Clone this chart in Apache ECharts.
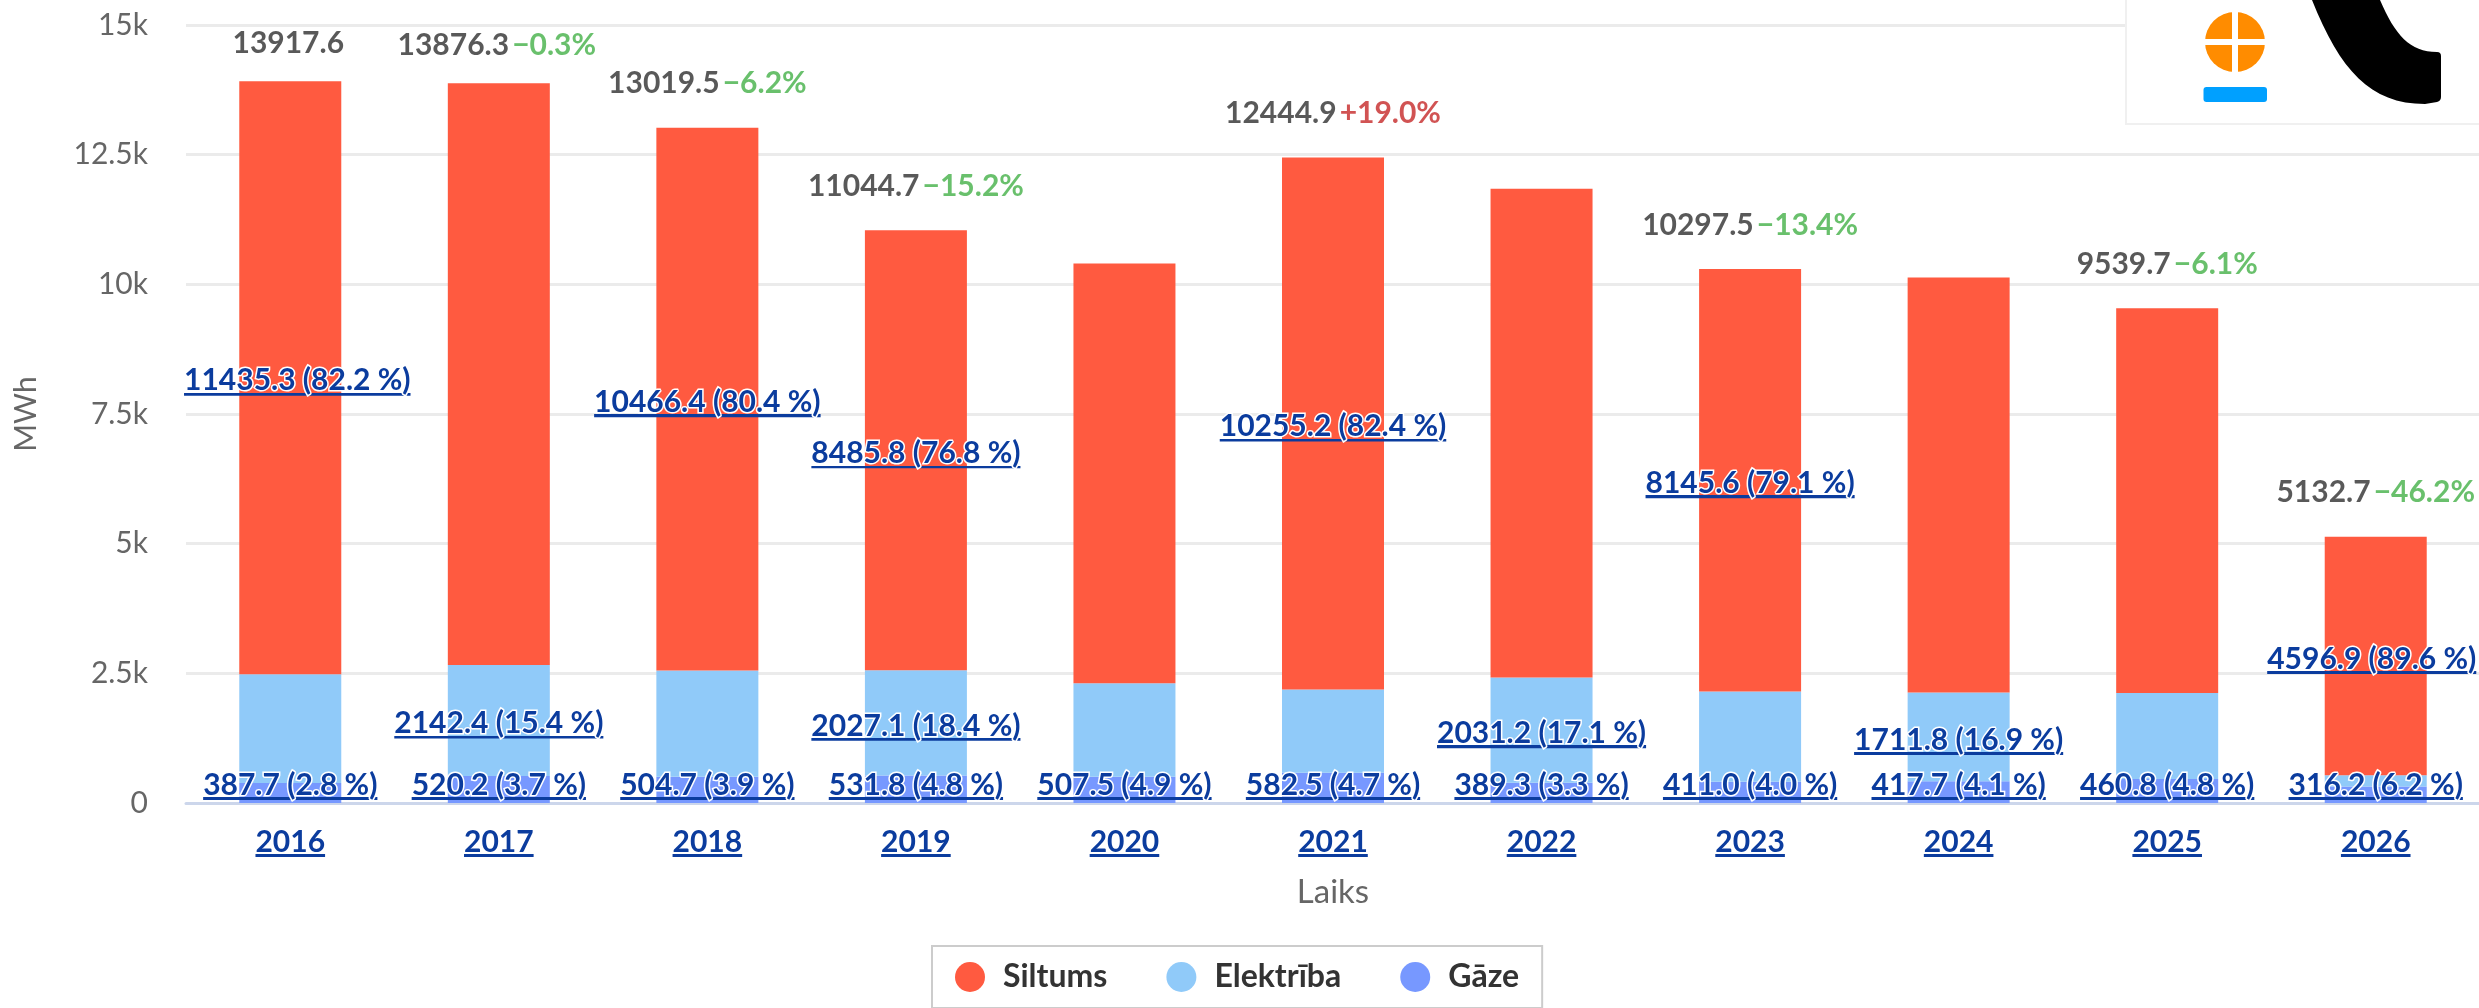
<!DOCTYPE html>
<html><head><meta charset="utf-8">
<style>html,body{margin:0;padding:0;background:#fff}#c{width:2479px;height:1008px}</style>
<script src="https://cdn.jsdelivr.net/npm/echarts@6/dist/echarts.min.js"></script>
</head><body><div id="c"></div>
<script>
const years = ['2016','2017','2018','2019','2020','2021','2022','2023','2024','2025','2026'];
const siltums  = [11435.3,11213.7,10466.4,8485.8,8093,10255.2,9420,8145.6,8000,7419,4596.9];
const elektriba= [2094.6,2142.4,2048.4,2027.1,1800,1607.2,2031.2,1740.9,1711.8,1660,219.6];
const gaze     = [387.7,520.2,504.7,531.8,507.5,582.5,389.3,411.0,417.7,460.8,316.2];
const siltumsLabels = ['11435.3 (82.2 %)',null,'10466.4 (80.4 %)','8485.8 (76.8 %)',null,'10255.2 (82.4 %)',null,'8145.6 (79.1 %)',null,null,'4596.9 (89.6 %)'];
const elektribaLabels = [null,'2142.4 (15.4 %)',null,'2027.1 (18.4 %)',null,null,'2031.2 (17.1 %)',null,'1711.8 (16.9 %)',null,null];
const gazeLabels = ['387.7 (2.8 %)','520.2 (3.7 %)','504.7 (3.9 %)','531.8 (4.8 %)','507.5 (4.9 %)','582.5 (4.7 %)','389.3 (3.3 %)','411.0 (4.0 %)','417.7 (4.1 %)','460.8 (4.8 %)','316.2 (6.2 %)'];
const totalLabels = ['13917.6','13876.3','13019.5','11044.7',null,'12444.9',null,'10297.5',null,'9539.7','5132.7'];
const deltaLabels = [null,'−0.3%','−6.2%','−15.2%',null,'+19.0%',null,'−13.4%',null,'−6.1%','−46.2%'];
const yTicks = {0:'0',2500:'2.5k',5000:'5k',7500:'7.5k',10000:'10k',12500:'12.5k',15000:'15k'};

const FONT = 'Lato, "Open Sans", sans-serif';
const BLUE = '#0b3c9e';
const underlineBg = new echarts.graphic.LinearGradient(0,0,0,1,[
  {offset:0,color:'rgba(11,60,158,0)'},{offset:0.91,color:'rgba(11,60,158,0)'},
  {offset:0.91,color:BLUE},{offset:1,color:BLUE}
]);
const underlined = {
  t:{color:BLUE,fontFamily:FONT,fontSize:30,fontWeight:'bold',height:30,lineHeight:30,
     backgroundColor:underlineBg,textBorderColor:'#fff',textBorderWidth:3}
};
const ul = s => `{t|${s}}`;
const xNudge = {'11435.3 (82.2 %)':7,'4596.9 (89.6 %)':-4};
function barData(values, labels){
  return values.map((v,i)=>{
    const s = labels[i];
    const d = {value:v};
    if(!s){ d.label={show:false}; }
    else if(xNudge[s]!==undefined){ d.label={show:true,formatter:ul(s),offset:[xNudge[s],3]}; }
    else { d.label={show:true,formatter:ul(s)}; }
    return d;
  });
}
const totals = years.map((_,i)=>siltums[i]+elektriba[i]+gaze[i]);
echarts.graphic.registerShape('logoTail', echarts.graphic.extendPath('M2312 0 C2340 70 2370 104 2425 104 L2437 102 Q2441 101 2441 97 L2441 56 Q2441 52 2437 52 C2410 52 2395 35 2380 0 Z',{}));
const chart = echarts.init(document.getElementById('c'),null,{renderer:'canvas'});
const totalText = c => ({color:c,fontSize:30,fontWeight:'bold',fontFamily:FONT,textBorderColor:'#fff',textBorderWidth:3});
chart.setOption({
  animation:false,
  backgroundColor:'#fff',
  textStyle:{fontFamily:FONT},
  grid:{left:186,top:25,width:2294,bottom:205,containLabel:false,outerBoundsMode:'none'},
  legend:{
    data:['Siltums','Elektrība','Gāze'],
    left:932,top:946,
    padding:[15,23,15,23],
    itemWidth:30,itemHeight:30,itemGap:59,icon:'circle',
    borderColor:'#cccccc',borderWidth:2,backgroundColor:'#fff',
    textStyle:{color:'#333',fontFamily:FONT,fontSize:32,fontWeight:'bold',padding:[0,0,0,13]}
  },
  xAxis:{
    type:'category',data:years,
    name:'Laiks',nameLocation:'middle',nameGap:73,
    nameTextStyle:{color:'#666',fontSize:33,fontFamily:FONT},
    axisLine:{lineStyle:{color:'#ccd6eb',width:3}},
    axisTick:{show:false},
    axisLabel:{margin:24,formatter:v=>`{t|${v}}`,rich:underlined},
  },
  yAxis:{
    type:'value',min:0,max:15000,interval:2500,
    name:'MWh',nameLocation:'middle',nameGap:145,
    nameTextStyle:{color:'#666',fontSize:30,fontFamily:FONT},
    axisLine:{show:false},axisTick:{show:false},
    axisLabel:{margin:38,color:'#666',fontSize:30,fontFamily:FONT,formatter:v=>yTicks[v]},
    splitLine:{lineStyle:{color:'#ebebeb',width:3}}
  },
  color:['#ff5a40','#90caf9','#7798ff'],
  series:[
    {name:'Gāze',type:'bar',stack:'a',barWidth:102,itemStyle:{color:'#7798ff'},z:2,
     label:{show:true,position:'insideBottom',distance:3,rich:underlined},
     data:barData(gaze,gazeLabels)},
    {name:'Elektrība',type:'bar',stack:'a',barWidth:102,itemStyle:{color:'#90caf9'},z:2,
     label:{show:true,position:'inside',offset:[0,3],rich:underlined},
     data:barData(elektriba,elektribaLabels)},
    {name:'Siltums',type:'bar',stack:'a',barWidth:102,itemStyle:{color:'#ff5a40'},z:2,
     label:{show:true,position:'inside',offset:[0,3],rich:underlined},
     data:barData(siltums,siltumsLabels)},
    {name:'Kopā',type:'scatter',symbolSize:0,z:5,silent:true,
     label:{show:true,position:'top',distance:29,
       rich:{v:totalText('#2f2f2f'),g:totalText('#43b047'),r:totalText('#c62828')}},
     data:totals.map((v,i)=>{
       const s=totalLabels[i];
       if(!s) return {value:v,label:{show:false}};
       const dl=deltaLabels[i];
       const f=`{v|${s}}`+(dl?` {${dl[0]==='+'?'r':'g'}|${dl}}`:'');
       const d={value:v,label:{show:true,formatter:f}};
       if(i<2) d.label.offset=[-2,6];
       return d;
     })}
  ],
  graphic:[
    {type:'rect',z:100,shape:{x:2126,y:-3,width:360,height:127},style:{fill:'#fff',stroke:'#f0f0f0',lineWidth:2}},
    {type:'circle',z:101,shape:{cx:2235,cy:42,r:30},style:{fill:'#ff8c00'}},
    {type:'rect',z:102,shape:{x:2232,y:10,width:6,height:64},style:{fill:'#fff'}},
    {type:'rect',z:102,shape:{x:2203,y:39,width:64,height:6},style:{fill:'#fff'}},
    {type:'rect',z:101,shape:{x:2203.5,y:87,width:63.5,height:15,r:3},style:{fill:'#00a0ff'}},
    {type:'logoTail',z:101,shape:{},style:{fill:'#000'}}
  ]
});
</script></body></html>
